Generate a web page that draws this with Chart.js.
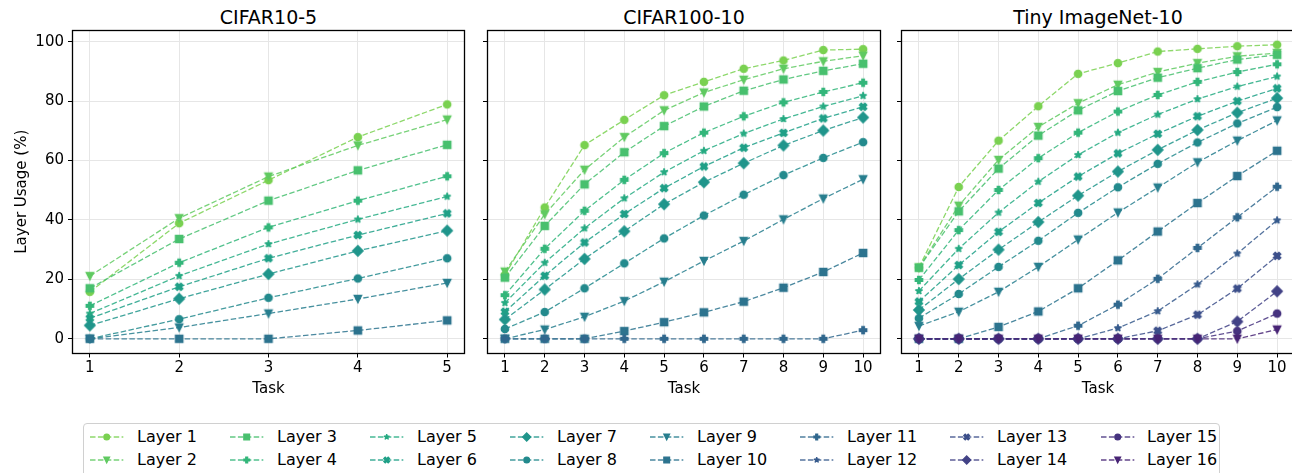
<!DOCTYPE html>
<html>
<head>
<meta charset="utf-8">
<title>Layer Usage</title>
<script src="https://cdn.jsdelivr.net/npm/chart.js@4.4.1/dist/chart.umd.min.js"></script>
<style>
  html, body { margin: 0; padding: 0; background: #fff; }
  body { width: 1292px; height: 473px; overflow: hidden; position: relative; font-family: "DejaVu Sans", sans-serif; color: #000; }
  .panel { position: absolute; top: 0; }
  .ptitle { position: absolute; top: 6px; font-size: 19px; line-height: 22px; white-space: nowrap; transform: translateX(-50%); }
  #legend { position: absolute; left: 83px; top: 423px; width: 1137px; height: 70px; border: 1px solid #d0d0d0; border-radius: 4px; box-sizing: border-box; }
  .lg-line { position: absolute; }
  .lg-text { position: absolute; font-size: 16px; line-height: 20px; white-space: nowrap; }
</style>
</head>
<body>

<div class="ptitle" style="left:268.5px">CIFAR10-5</div>
<div class="ptitle" style="left:684px">CIFAR100-10</div>
<div class="ptitle" style="left:1098px">Tiny ImageNet-10</div>

<canvas id="c1" class="panel" width="480" height="410" style="left:0px"></canvas>
<canvas id="c2" class="panel" width="420" height="410" style="left:472px"></canvas>
<canvas id="c3" class="panel" width="420" height="410" style="left:886px"></canvas>

<div id="legend"></div>

<script>
// ---- data ----
const LAYERS = ["Layer 1", "Layer 2", "Layer 3", "Layer 4", "Layer 5", "Layer 6", "Layer 7", "Layer 8",
                "Layer 9", "Layer 10", "Layer 11", "Layer 12", "Layer 13", "Layer 14", "Layer 15", "Layer 16"];
const TASKS_5 = [1, 2, 3, 4, 5];
const TASKS_10 = [1, 2, 3, 4, 5, 6, 7, 8, 9, 10];
const Y_TICKS = [0, 20, 40, 60, 80, 100];

// one row per layer, one value per task (%)
const CIFAR10_5 = [
  [15.8, 38.9, 53.4, 67.9, 78.9],
  [21.1, 40.6, 54.6, 65.1, 73.8],
  [17.0, 33.6, 46.5, 56.7, 65.3],
  [11.1, 25.6, 37.5, 46.5, 54.7],
  [8.5, 21.2, 31.9, 40.2, 47.9],
  [6.9, 17.5, 27.1, 34.9, 42.2],
  [4.5, 13.5, 21.8, 29.6, 36.4],
  [0, 6.6, 13.8, 20.3, 27.1],
  [0, 3.8, 8.5, 13.4, 18.8],
  [0, 0, 0, 2.8, 6.2]
];

const CIFAR100_10 = [
  [21.5, 44.2, 65.2, 73.7, 82.0, 86.5, 90.9, 93.7, 97.2, 97.5],
  [22.6, 41.9, 56.9, 67.9, 76.9, 82.9, 87.2, 90.9, 93.4, 95.3],
  [20.6, 38.0, 52.0, 62.8, 71.6, 78.2, 83.5, 87.3, 90.2, 92.6],
  [14.7, 30.3, 43.1, 53.5, 62.5, 69.4, 74.9, 79.6, 83.1, 86.2],
  [12.1, 25.6, 37.2, 47.3, 56.1, 63.3, 69.1, 74.0, 78.2, 81.8],
  [9.1, 21.2, 32.4, 42.0, 50.7, 58.0, 64.3, 69.3, 74.2, 78.1],
  [6.5, 16.6, 26.9, 36.2, 45.3, 52.7, 59.1, 65.1, 70.1, 74.5],
  [3.3, 9.0, 17.0, 25.4, 33.8, 41.5, 48.5, 55.1, 60.9, 66.2],
  [0, 3.1, 7.4, 12.7, 19.2, 26.2, 32.9, 40.2, 47.2, 53.7],
  [0, 0, 0, 2.6, 5.6, 8.9, 12.5, 17.2, 22.5, 28.9],
  [0, 0, 0, 0, 0, 0, 0, 0, 0, 2.9]
];

const TINY_10 = [
  [24.0, 51.1, 66.7, 78.3, 89.2, 92.8, 96.7, 97.6, 98.5, 99.0],
  [24.0, 44.8, 60.2, 71.3, 79.3, 85.5, 89.8, 92.8, 95.1, 96.2],
  [23.9, 42.9, 57.3, 68.4, 76.9, 83.4, 87.9, 91.1, 94.0, 95.6],
  [19.8, 36.6, 50.1, 60.8, 69.4, 76.5, 82.1, 86.5, 89.8, 92.4],
  [16.1, 30.3, 42.5, 52.9, 61.9, 69.4, 75.5, 80.7, 84.9, 88.3],
  [12.5, 24.8, 36.0, 45.7, 54.6, 62.4, 69.0, 74.9, 80.0, 84.3],
  [9.7, 20.1, 30.0, 39.3, 48.2, 56.3, 63.6, 70.3, 76.1, 81.0],
  [6.9, 15.1, 24.2, 33.0, 42.4, 51.0, 58.9, 66.1, 72.5, 78.0],
  [4.3, 9.1, 15.8, 24.2, 33.4, 42.5, 50.9, 59.4, 66.7, 73.5],
  [0, 0, 4.0, 9.2, 17.0, 26.4, 36.1, 45.7, 54.8, 63.3],
  [0, 0, 0, 0, 4.4, 11.5, 20.2, 30.6, 40.9, 51.2],
  [0, 0, 0, 0, 0, 3.6, 9.3, 18.3, 28.7, 39.9],
  [0, 0, 0, 0, 0, 0, 2.7, 8.1, 16.9, 27.9],
  [0, 0, 0, 0, 0, 0, 0, 0, 5.8, 16.0],
  [0, 0, 0, 0, 0, 0, 0, 0, 2.6, 8.5],
  [0, 0, 0, 0, 0, 0, 0, 0, 0, 3.1]
];

// ---- style ----
// viridis sampled from 0.8 down to 0.1
const COLORS = ["#7ad151", "#60ca61", "#48c06e", "#33b67a", "#26ab82", "#1fa087", "#20958b", "#238a8d",
                "#277e8e", "#2c738e", "#31688e", "#375b8d", "#3c4f8a", "#424286", "#46337f", "#482475"];
const MARKERS = ["o", "v", "s", "P", "*", "X", "D"];
const GRID = "#e6e6e6";
const DASH = [5.5, 2.4];

function $(id){ return document.getElementById(id); }

function rgba(hex, a){
  const n = parseInt(hex.slice(1), 16);
  return `rgba(${(n >> 16) & 255},${(n >> 8) & 255},${n & 255},${a})`;
}

const PLUS_PTS = [[-1,-3],[1,-3],[1,-1],[3,-1],[3,1],[1,1],[1,3],[-1,3],[-1,1],[-3,1],[-3,-1],[-1,-1]];
const X_PTS = [[-1,-2],[0,-1],[1,-2],[2,-1],[1,0],[2,1],[1,2],[0,1],[-1,2],[-2,1],[-1,0],[-2,-1]];

function markerPath(ctx, m, cx, cy, s){
  const h = s / 2;
  ctx.beginPath();
  if (m === "o") {
    ctx.arc(cx, cy, h, 0, Math.PI * 2);
  } else if (m === "v") {
    ctx.moveTo(cx, cy + h); ctx.lineTo(cx - h, cy - h); ctx.lineTo(cx + h, cy - h);
  } else if (m === "s") {
    ctx.rect(cx - h, cy - h, s, s);
  } else if (m === "D") {
    const d = s / Math.SQRT2;
    ctx.moveTo(cx, cy - d); ctx.lineTo(cx + d, cy); ctx.lineTo(cx, cy + d); ctx.lineTo(cx - d, cy);
  } else if (m === "*") {
    for (let k = 0; k < 10; k++){
      const r = (k % 2) ? h * 0.381966 : h;
      const a = -Math.PI / 2 + k * Math.PI / 5;
      ctx.lineTo(cx + r * Math.cos(a), cy + r * Math.sin(a));
    }
  } else {
    const pts = m === "P" ? PLUS_PTS : X_PTS;
    const div = m === "P" ? 6 : 4;
    pts.forEach(p => ctx.lineTo(cx + p[0] / div * s, cy + p[1] / div * s));
  }
  ctx.closePath();
}

function drawMarker(ctx, m, cx, cy, s, ew, color){
  markerPath(ctx, m, cx, cy, s);
  ctx.fillStyle = color;
  ctx.fill();
  ctx.lineWidth = ew;
  ctx.strokeStyle = color;
  ctx.lineJoin = m === "o" ? "round" : (m === "*" ? "bevel" : "miter");
  ctx.stroke();
}

function markerCanvas(m, color){
  const c = document.createElement("canvas");
  c.width = 18; c.height = 18;
  drawMarker(c.getContext("2d"), m, 9, 9, 7.4, 1.3, color);
  return c;
}

// black box around the plot area
const framePlugin = {
  id: "frame",
  afterDraw(chart){
    const { ctx, chartArea: a } = chart;
    const l = Math.round(a.left), t = Math.round(a.top), r = Math.round(a.right), b = Math.round(a.bottom);
    ctx.save();
    ctx.strokeStyle = "#000";
    ctx.lineWidth = 1.3;
    ctx.strokeRect(l + 0.5, t + 0.5, r - l - 1, b - t - 1);
    ctx.restore();
  }
};

function makeDatasets(rows, tasks){
  return rows.map((vals, i) => ({
    label: LAYERS[i],
    data: vals.map((v, k) => ({ x: tasks[k], y: v })),
    borderColor: rgba(COLORS[i], 0.85),
    backgroundColor: COLORS[i],
    borderWidth: 1.3,
    borderDash: DASH,
    tension: 0,
    fill: false,
    pointStyle: markerCanvas(MARKERS[i % MARKERS.length], COLORS[i]),
    pointRadius: 4,
    order: 100 - i   // later layers on top, like matplotlib
  }));
}

function buildPanel(id, rows, tasks, xmin, xmax, first, padRight){
  const gridOpts = { color: GRID, lineWidth: 1, tickColor: "#000", tickWidth: 1, tickLength: 4 };
  return new Chart($(id), {
    type: "line",
    data: { datasets: makeDatasets(rows, tasks) },
    options: {
      responsive: false,
      animation: false,
      events: [],
      layout: { padding: { left: 0, top: 30, right: padRight, bottom: 0 } },
      plugins: { legend: { display: false }, tooltip: { enabled: false }, title: { display: false } },
      scales: {
        x: {
          type: "linear", min: xmin, max: xmax,
          afterBuildTicks: s => { s.ticks = tasks.map(v => ({ value: v })); },
          afterFit: s => { s.height = 56.5; },
          grid: gridOpts,
          border: { display: false },
          ticks: { padding: 1.5, font: { size: 15 }, maxRotation: 0, autoSkip: false },
          title: { display: true, text: "Task", font: { size: 15 }, padding: { top: 0, bottom: 12 } }
        },
        y: {
          type: "linear", min: -4.95, max: 103.95,
          afterBuildTicks: s => { s.ticks = Y_TICKS.map(v => ({ value: v })); },
          afterFit: s => { s.width = first ? 72 : 15; },
          grid: gridOpts,
          border: { display: false },
          ticks: { display: first, padding: 4, font: { size: 15 } },
          title: { display: first, text: "Layer Usage (%)", font: { size: 15 }, padding: { top: 13, bottom: 0 } }
        }
      }
    },
    plugins: [framePlugin]
  });
}

function buildLegend(){
  const wrap = $("legend");
  const colX = [136.7, 276.7, 416.7, 556.7, 696.7, 846.7, 996.7, 1147.3];
  const rowY = [437, 459.7];
  const ox = 84, oy = 424; // legend box inner origin

  LAYERS.forEach((name, i) => {
    const col = Math.floor(i / 2), row = i % 2;
    const tx = colX[col] - ox, ty = rowY[row] - oy;

    const c = document.createElement("canvas");
    c.width = 34; c.height = 16;
    c.className = "lg-line";
    c.style.left = Math.round(tx - 46.7) + "px";
    c.style.top = Math.round(ty - 8) + "px";
    const ctx = c.getContext("2d");
    ctx.strokeStyle = rgba(COLORS[i], 0.85);
    ctx.lineWidth = 1.3;
    ctx.setLineDash(DASH);
    ctx.beginPath(); ctx.moveTo(0, 8); ctx.lineTo(33.3, 8); ctx.stroke();
    ctx.setLineDash([]);
    drawMarker(ctx, MARKERS[i % MARKERS.length], 16.7, 8, 5.8, 1.2, COLORS[i]);
    wrap.appendChild(c);

    const t = document.createElement("div");
    t.className = "lg-text";
    t.textContent = name;
    t.style.left = Math.round(tx) + "px";
    t.style.top = Math.round(ty - 10) + "px";
    wrap.appendChild(t);
  });
}

function main(){
  Chart.defaults.font.family = "'DejaVu Sans', sans-serif";
  Chart.defaults.color = "#000";

  buildPanel("c1", CIFAR10_5, TASKS_5, 0.8, 5.2, true, 15);
  buildPanel("c2", CIFAR100_10, TASKS_10, 0.55, 10.45, false, 11);
  buildPanel("c3", TINY_10, TASKS_10, 0.55, 10.45, false, 11);
  buildLegend();
}

main();
</script>
</body>
</html>
